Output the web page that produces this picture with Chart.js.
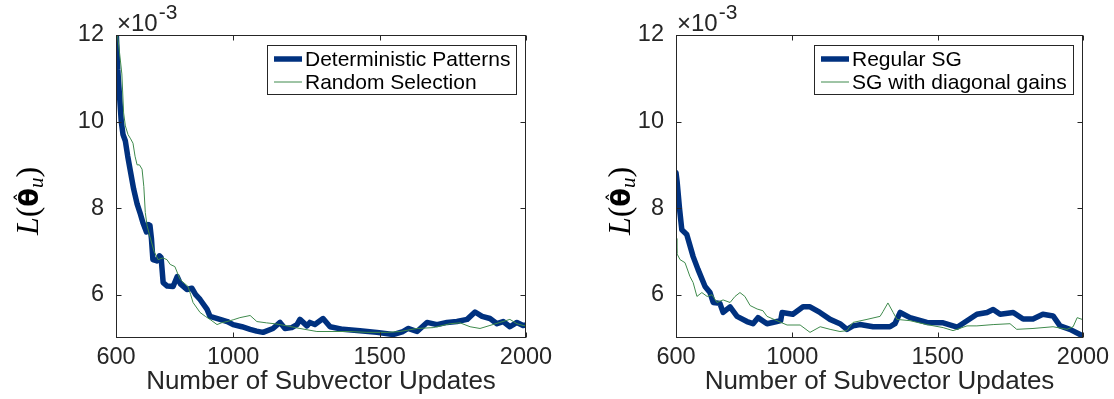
<!DOCTYPE html>
<html>
<head>
<meta charset="utf-8">
<script src="https://cdn.jsdelivr.net/npm/chart.js@4.4.0/dist/chart.umd.min.js"></script>
<style>
  body { margin: 0; background: #fff; width: 1114px; height: 399px; overflow: hidden; position: relative; }
  .panel { position: absolute; top: 0; width: 557px; height: 399px; }
</style>
</head>
<body>
<div class="panel" style="left:0"><canvas id="left" width="557" height="399"></canvas></div>
<div class="panel" style="left:557px"><canvas id="right" width="557" height="399"></canvas></div>
<script>
// values are in units of 1e-3
const xTicks = [600, 1000, 1500, 2000]
const yTicks = [6, 8, 10, 12]
const xMin = 600, xMax = 2000
const yMin = 5.0, yMax = 12

// left panel
const detX = [600,606,612,618,624,632,640,648,660,672,684,692,704,710,716,721,726,740,748,754,761,775,795,809,820,842,859,872,887,911,921,955,980,1000,1030,1058,1080,1102,1136,1160,1177,1200,1218,1228,1252,1262,1279,1307,1331,1375,1433,1491,1546,1580,1597,1628,1662,1696,1730,1764,1799,1826,1850,1877,1901,1922,1945,1969,1990,2000]
const detY = [12.2,11.2,10.6,10.0,9.7,9.55,9.2,8.9,8.45,8.1,7.85,7.66,7.45,7.62,7.6,7.3,6.81,6.78,6.9,6.86,6.28,6.2,6.19,6.42,6.25,6.12,6.15,6.0,5.89,5.66,5.5,5.43,5.38,5.31,5.26,5.2,5.16,5.13,5.22,5.36,5.22,5.24,5.31,5.43,5.28,5.36,5.31,5.45,5.26,5.2,5.17,5.13,5.08,5.15,5.22,5.15,5.36,5.31,5.36,5.38,5.43,5.6,5.5,5.45,5.33,5.38,5.26,5.36,5.29,5.3]
const randX = [600,612,620,626,632,641,650,658,665,672,680,689,695,700,706,716,730,744,760,774,785,801,819,846,855,863,887,905,921,945,960,979,1000,1023,1058,1081,1114,1140,1160,1184,1228,1286,1341,1399,1457,1525,1570,1628,1683,1741,1775,1809,1843,1877,1911,1945,1969,1990,2000]
const randY = [12.3,11.6,11.1,10.2,9.9,9.7,9.6,9.5,9.2,9.0,9.0,8.9,8.5,7.9,7.6,7.34,7.0,6.81,6.85,6.81,6.7,6.65,6.35,6.19,6.0,5.82,5.59,5.5,5.43,5.31,5.35,5.38,5.42,5.47,5.52,5.38,5.35,5.33,5.31,5.28,5.22,5.15,5.15,5.15,5.13,5.13,5.15,5.22,5.24,5.33,5.35,5.26,5.22,5.29,5.36,5.43,5.33,5.29,5.28]

// right panel
const regX = [600,604,612,620,637,659,676,700,717,728,751,762,786,810,844,865,882,913,947,960,965,1002,1037,1061,1095,1130,1164,1188,1209,1233,1278,1336,1353,1371,1405,1463,1519,1567,1601,1635,1670,1691,1715,1760,1794,1828,1862,1897,1921,1955,1990,2000]
const regY = [8.82,8.6,8.0,7.5,7.39,6.88,6.58,6.19,6.05,5.82,5.8,5.59,5.72,5.5,5.38,5.33,5.47,5.33,5.38,5.4,5.59,5.55,5.72,5.72,5.59,5.43,5.33,5.2,5.28,5.31,5.26,5.26,5.33,5.59,5.47,5.36,5.35,5.25,5.4,5.55,5.59,5.66,5.55,5.59,5.44,5.44,5.55,5.51,5.28,5.2,5.08,5.05]
const diagX = [600,603,614,631,648,659,672,689,707,724,741,762,786,803,820,837,855,879,899,913,947,982,1027,1061,1096,1130,1164,1188,1209,1257,1302,1312,1329,1347,1360,1405,1463,1519,1553,1601,1635,1691,1749,1772,1828,1897,1945,1966,1980,1997,2000]
const diagY = [7.3,6.95,6.81,6.74,6.42,6.28,5.96,6.05,5.96,6.0,5.82,5.88,5.82,5.96,6.05,5.96,5.75,5.67,5.63,5.5,5.4,5.3,5.3,5.13,5.26,5.2,5.15,5.17,5.36,5.43,5.5,5.61,5.81,5.59,5.43,5.4,5.31,5.24,5.17,5.28,5.28,5.31,5.33,5.2,5.22,5.26,5.2,5.26,5.47,5.43,5.43]

const leftLabels = ['Deterministic Patterns', 'Random Selection']
const rightLabels = ['Regular SG', 'SG with diagonal gains']
const xTitle = 'Number of Subvector Updates'

const blue = '#00317f'
const green = '#3f8a4c'
const ink = '#262626'
const sans = '"Liberation Sans", Arial, Helvetica, sans-serif'
const serif = '"Liberation Serif", "Times New Roman", serif'

Chart.defaults.font.family = sans
Chart.defaults.animation = false

function points(xs, ys) {
  return xs.map((x, i) => ({ x, y: ys[i] }))
}

function drawYTitle(ctx, bx, cy) {
  const parts = [
    { t: 'L', f: `italic 32px ${serif}`, dy: 0 },
    { t: '(', f: `32px ${serif}`, dy: 0 },
    { t: 'θ', f: 'bold 27px "DejaVu Sans", sans-serif', dy: 0, hat: true },
    { t: 'u', f: `italic 21px ${serif}`, dy: 5 },
    { t: ')', f: `32px ${serif}`, dy: 0 },
  ]
  ctx.save()
  ctx.translate(bx, cy)
  ctx.rotate(-Math.PI / 2)
  ctx.fillStyle = '#000'
  ctx.textBaseline = 'alphabetic'
  ctx.textAlign = 'left'
  let w = 0
  parts.forEach(p => { ctx.font = p.f; p.w = ctx.measureText(p.t).width; w += p.w })
  let x = -w / 2
  parts.forEach(p => {
    ctx.font = p.f
    ctx.fillText(p.t, x, p.dy)
    if (p.hat) {
      ctx.font = '20px "DejaVu Sans", sans-serif'
      ctx.textAlign = 'center'
      ctx.fillText('ˆ', x + p.w / 2, -9)
      ctx.textAlign = 'left'
    }
    x += p.w
  })
  ctx.restore()
}

function drawLegend(ctx, chart, gap) {
  const a = chart.chartArea
  const ds = chart.data.datasets
  ctx.font = `21px ${sans}`
  const tw = Math.max(...ds.map(d => ctx.measureText(d.label).width))
  const w = Math.round(7 + 28 + 3 + tw + 6)
  const h = 49
  const x0 = Math.round(a.right - gap - w)
  const y0 = Math.round(a.top + 10)
  ctx.fillStyle = '#fff'
  ctx.fillRect(x0, y0, w, h)
  ctx.strokeStyle = ink
  ctx.lineWidth = 1
  ctx.strokeRect(x0 + 0.5, y0 + 0.5, w, h)
  ds.forEach((d, i) => {
    const cy = y0 + 14 + i * 23
    ctx.strokeStyle = d.borderColor
    ctx.lineWidth = d.borderWidth
    ctx.beginPath()
    ctx.moveTo(x0 + 7, cy)
    ctx.lineTo(x0 + 35, cy)
    ctx.stroke()
    ctx.fillStyle = '#000'
    ctx.textAlign = 'left'
    ctx.textBaseline = 'middle'
    ctx.fillText(d.label, x0 + 38, cy + 1)
  })
}

const frame = {
  id: 'frame',
  afterDatasetsDraw(chart, args, opts) {
    const { ctx, chartArea: a, scales: { x, y } } = chart
    ctx.save()
    ctx.strokeStyle = ink
    ctx.lineWidth = 1
    const L = Math.round(a.left) + 0.5, R = Math.round(a.right) - 0.5
    const T = Math.round(a.top) + 0.5, B = Math.round(a.bottom) - 0.5
    ctx.strokeRect(L, T, R - L, B - T)
    const t = 5
    ctx.beginPath()
    xTicks.forEach(v => {
      const px = Math.round(x.getPixelForValue(v)) + 0.5
      ctx.moveTo(px, B); ctx.lineTo(px, B - t)
      ctx.moveTo(px, T); ctx.lineTo(px, T + t)
    })
    yTicks.forEach(v => {
      const py = Math.round(y.getPixelForValue(v)) + 0.5
      ctx.moveTo(L, py); ctx.lineTo(L + t, py)
      ctx.moveTo(R, py); ctx.lineTo(R - t, py)
    })
    ctx.stroke()

    // exponent label
    ctx.fillStyle = ink
    ctx.textAlign = 'left'
    ctx.textBaseline = 'alphabetic'
    ctx.font = `24px ${sans}`
    const ex = a.left + 1
    ctx.fillText('×10', ex, 31)
    const ew = ctx.measureText('×10').width
    ctx.font = `21px ${sans}`
    ctx.fillText('-3', ex + ew + 1, 19)

    // x title
    ctx.font = `26px ${sans}`
    ctx.textAlign = 'center'
    ctx.fillText(xTitle, (a.left + a.right) / 2, 389)

    drawYTitle(ctx, opts.yTitleX, 201)
    drawLegend(ctx, chart, opts.legendGap)
    ctx.restore()
  }
}

function makeChart(id, labels, s1, s2, yAxisWidth, yTitleX) {
  const ctx = document.getElementById(id)
  return new Chart(ctx, {
    type: 'line',
    data: {
      datasets: [
        { label: labels[0], data: points(s1[0], s1[1]), borderColor: blue, borderWidth: 5.5,
          pointRadius: 0, tension: 0, borderJoinStyle: 'round', borderCapStyle: 'round', clip: 0, order: 1 },
        { label: labels[1], data: points(s2[0], s2[1]), borderColor: green, borderWidth: 1,
          pointRadius: 0, tension: 0, clip: 0, order: 0 },
      ]
    },
    options: {
      responsive: false,
      devicePixelRatio: 1,
      layout: { padding: { top: 35, right: 31, bottom: 0, left: 0 } },
      plugins: {
        legend: { display: false },
        tooltip: { enabled: false },
        frame: { yTitleX, legendGap: 10 }
      },
      scales: {
        x: {
          type: 'linear', min: xMin, max: xMax,
          afterBuildTicks: s => { s.ticks = xTicks.map(v => ({ value: v })) },
          afterFit: s => { s.height = 61; s.paddingLeft = 0; s.paddingRight = 0 },
          grid: { display: false },
          border: { display: false },
          ticks: { color: ink, font: { size: 23.5 }, padding: -3, maxRotation: 0, autoSkip: false,
                   callback: v => String(v) }
        },
        y: {
          type: 'linear', min: yMin, max: yMax,
          afterBuildTicks: s => { s.ticks = yTicks.map(v => ({ value: v })) },
          afterFit: s => { s.width = yAxisWidth; s.paddingTop = 0; s.paddingBottom = 0 },
          grid: { display: false },
          border: { display: false },
          ticks: { color: ink, font: { size: 23.5 }, padding: 4, callback: v => String(v) }
        }
      }
    },
    plugins: [frame]
  })
}

makeChart('left', leftLabels, [detX, detY], [randX, randY], 116, 38)
makeChart('right', rightLabels, [regX, regY], [diagX, diagY], 119, 73)
</script>
</body>
</html>
